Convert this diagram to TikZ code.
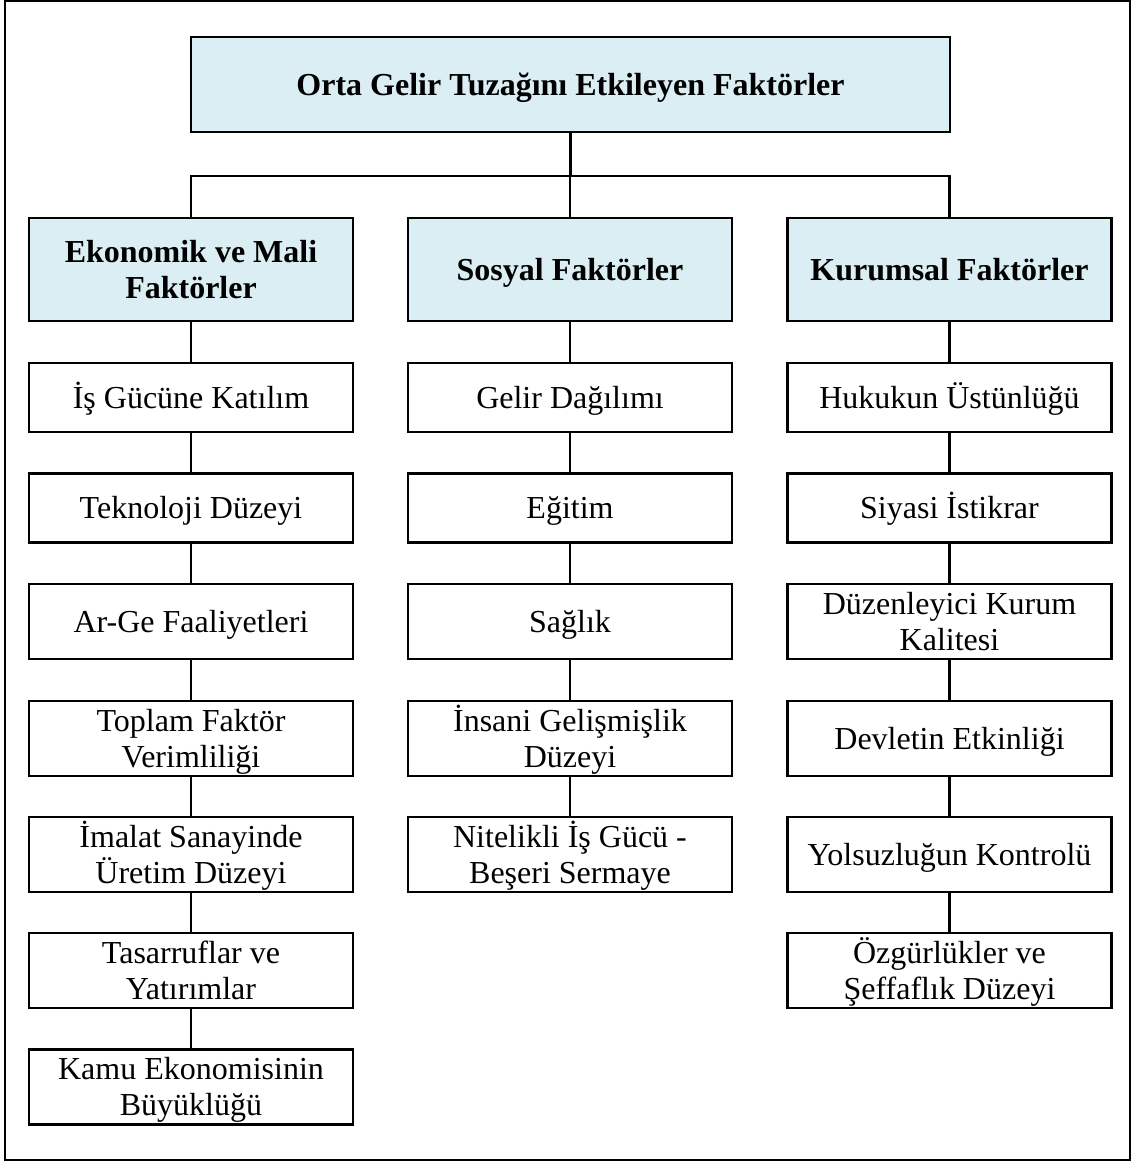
\documentclass[tikz,border=0pt]{standalone}
\usepackage{fontspec}
\setmainfont{Liberation Serif}
\definecolor{headblue}{HTML}{DAEEF3}
% strut used on every text line: 21.4pt above the baseline, 4.9pt below
\newcommand\rowstrut{\rule[-4.9pt]{0pt}{26.3pt}}
\tikzset{
  box/.style={draw=black, line width=1.8pt, rectangle, inner sep=0pt,
    align=center, font=\fontsize{24}{27}\selectfont, minimum width=243pt},
  item/.style={box, fill=white, minimum height=56.25pt},
  itemshort/.style={item, minimum height=51.75pt},
  head/.style={box, fill=headblue, font=\fontsize{24}{27}\selectfont\bfseries,
    minimum height=77.25pt},
  link/.style={line width=1.9pt}
}
\begin{document}
\begin{tikzpicture}[x=0.75pt,y=-0.75pt]
\useasboundingbox (0,0) rectangle (1132,1162);
\draw[line width=1pt] (5,1) rectangle (1130,1160);

% title
\node[head, minimum width=569.25pt, minimum height=71.25pt] (top) at (570.5,84.5)
  {\rowstrut Orta Gelir Tuzağını Etkileyen Faktörler};

% category headers
\node[head] (h1) at (191,269.5) {\rowstrut Ekonomik ve Mali\\\rowstrut Faktörler};
\node[head] (h2) at (570,269.5) {\rowstrut Sosyal Faktörler};
\node[head] (h3) at (949.5,269.5) {\rowstrut Kurumsal Faktörler};

% bus from the title to the three headers
\coordinate (bus) at (570.5,176);
\draw[link] (top.south) -- (top.south |- bus);
\draw[link] (h1.north) |- (bus) -| (h3.north);
\draw[link] (h2.north) -- (h2.north |- bus);

% economic and fiscal factors
\node[itemshort] (a1) at (191,397.5) {\rowstrut İş Gücüne Katılım};
\node[itemshort] (a2) at (191,508) {\rowstrut Teknoloji Düzeyi};
\node[item] (a3) at (191,621.5) {\rowstrut Ar-Ge Faaliyetleri};
\node[item] (a4) at (191,738.5) {\rowstrut Toplam Faktör\\\rowstrut Verimliliği};
\node[item] (a5) at (191,854.5) {\rowstrut İmalat Sanayinde\\\rowstrut Üretim Düzeyi};
\node[item] (a6) at (191,970.2) {\rowstrut Tasarruflar ve\\\rowstrut Yatırımlar};
\node[item] (a7) at (191,1087) {\rowstrut Kamu Ekonomisinin\\\rowstrut Büyüklüğü};

% social factors
\node[itemshort] (b1) at (570,397.5) {\rowstrut Gelir Dağılımı};
\node[itemshort] (b2) at (570,508) {\rowstrut Eğitim};
\node[item] (b3) at (570,621.5) {\rowstrut Sağlık};
\node[item] (b4) at (570,738.5) {\rowstrut İnsani Gelişmişlik\\\rowstrut Düzeyi};
\node[item] (b5) at (570,854.5) {\rowstrut Nitelikli İş Gücü -\\\rowstrut Beşeri Sermaye};

% institutional factors
\node[itemshort] (c1) at (949.5,397.5) {\rowstrut Hukukun Üstünlüğü};
\node[itemshort] (c2) at (949.5,508) {\rowstrut Siyasi İstikrar};
\node[item] (c3) at (949.5,621.5) {\rowstrut Düzenleyici Kurum\\\rowstrut Kalitesi};
\node[item] (c4) at (949.5,738.5) {\rowstrut Devletin Etkinliği};
\node[item] (c5) at (949.5,854.5) {\rowstrut Yolsuzluğun Kontrolü};
\node[item] (c6) at (949.5,970.2) {\rowstrut Özgürlükler ve\\\rowstrut Şeffaflık Düzeyi};

% vertical links inside each column
\draw[link] (h1.south) -- (a1.north);
\draw[link] (a1.south) -- (a2.north);
\draw[link] (a2.south) -- (a3.north);
\draw[link] (a3.south) -- (a4.north);
\draw[link] (a4.south) -- (a5.north);
\draw[link] (a5.south) -- (a6.north);
\draw[link] (a6.south) -- (a7.north);

\draw[link] (h2.south) -- (b1.north);
\draw[link] (b1.south) -- (b2.north);
\draw[link] (b2.south) -- (b3.north);
\draw[link] (b3.south) -- (b4.north);
\draw[link] (b4.south) -- (b5.north);

\draw[link] (h3.south) -- (c1.north);
\draw[link] (c1.south) -- (c2.north);
\draw[link] (c2.south) -- (c3.north);
\draw[link] (c3.south) -- (c4.north);
\draw[link] (c4.south) -- (c5.north);
\draw[link] (c5.south) -- (c6.north);
\end{tikzpicture}
\end{document}
